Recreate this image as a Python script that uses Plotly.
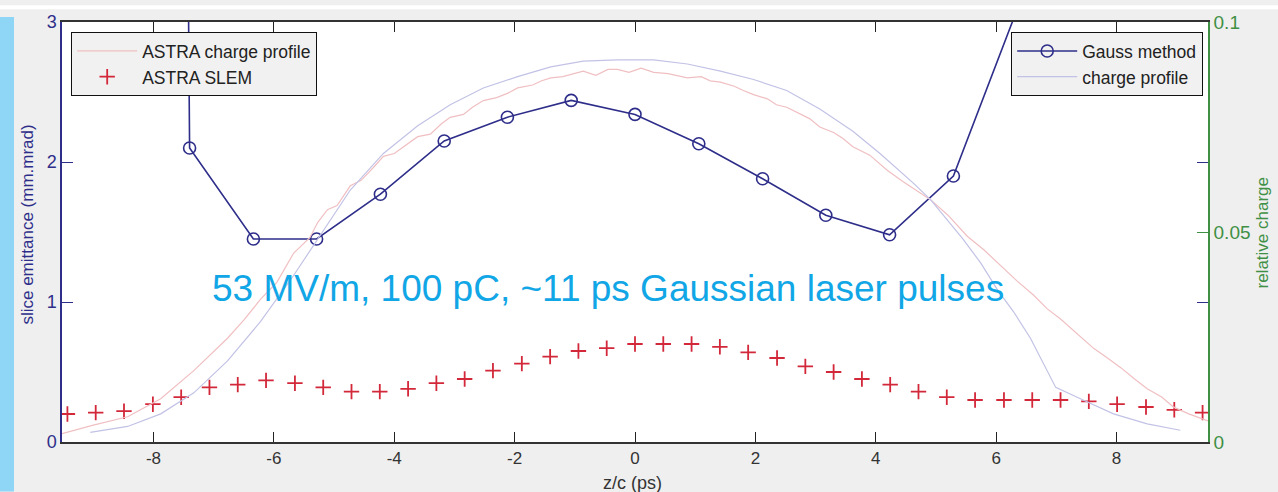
import plotly.graph_objects as go

# Gauss-method slice emittance (mm.mrad) vs z/c (ps)
gauss_z = [-8.46, -7.40, -6.34, -5.29, -4.23, -3.17, -2.12, -1.06, 0.0,
           1.06, 2.12, 3.17, 4.23, 5.29, 6.34, 7.40]
gauss_emit = [60.0, 2.10, 1.45, 1.45, 1.77, 2.15, 2.32, 2.44, 2.34,
              2.13, 1.88, 1.62, 1.48, 1.90, 3.08, 60.0]

# ASTRA slice emittance (SLEM), mm.mrad
slem_z = [-9.43, -8.96, -8.49, -8.01, -7.54, -7.07, -6.60, -6.13, -5.65, -5.18,
          -4.71, -4.24, -3.77, -3.30, -2.83, -2.36, -1.88, -1.41, -0.94, -0.47,
          0.0, 0.47, 0.94, 1.41, 1.88, 2.36, 2.83, 3.30, 3.77, 4.24,
          4.71, 5.18, 5.65, 6.13, 6.60, 7.07, 7.54, 8.01, 8.49, 8.96, 9.43]
slem_emit = [0.20, 0.21, 0.22, 0.27, 0.32, 0.39, 0.41, 0.44, 0.42, 0.39,
             0.36, 0.36, 0.38, 0.42, 0.45, 0.51, 0.56, 0.61, 0.65, 0.67,
             0.70, 0.70, 0.70, 0.68, 0.64, 0.60, 0.54, 0.50, 0.45, 0.41,
             0.36, 0.32, 0.30, 0.30, 0.30, 0.30, 0.29, 0.27, 0.25, 0.23, 0.21]

# Measured charge profile (relative charge)
prof_z = [-9.05, -8.43, -7.88, -7.33, -6.77, -6.22, -5.67, -5.27, -5.11, -4.73,
          -4.18, -3.61, -3.07, -2.52, -1.95, -1.40, -0.86, -0.29, 0.31, 0.87,
          1.42, 1.97, 2.52, 3.07, 3.62, 4.07, 4.62, 4.91, 5.45, 5.74,
          6.02, 6.29, 6.57, 6.79, 6.99, 7.40, 7.95, 8.51, 9.06]
prof_q = [0.0023, 0.0037, 0.0067, 0.0117, 0.0193, 0.0287, 0.0397, 0.0483, 0.0517, 0.0600,
          0.0687, 0.0753, 0.0803, 0.0843, 0.0870, 0.0893, 0.0907, 0.0910, 0.0910, 0.0900,
          0.0883, 0.0863, 0.0837, 0.0793, 0.0740, 0.0687, 0.0617, 0.0577, 0.0483, 0.0427,
          0.0363, 0.0310, 0.0247, 0.0187, 0.0130, 0.0103, 0.0067, 0.0043, 0.0028]

# ASTRA charge profile (relative charge)
astra_z = [-9.52, -9.00, -8.43, -7.88, -7.33, -6.77, -6.50, -6.22, -5.95, -5.67,
           -5.40, -5.27, -5.11, -4.95, -4.73, -4.55, -4.35, -4.18, -4.00, -3.80,
           -3.61, -3.40, -3.22, -3.07, -2.85, -2.70, -2.52, -2.30, -2.12, -1.95,
           -1.70, -1.55, -1.40, -1.20, -1.02, -0.86, -0.65, -0.45, -0.29, -0.10,
           0.10, 0.31, 0.55, 0.70, 0.87, 1.10, 1.25, 1.42, 1.65, 1.80,
           1.97, 2.20, 2.35, 2.52, 2.75, 2.90, 3.07, 3.30, 3.45, 3.62,
           3.90, 4.19, 4.45, 4.91, 5.20, 5.52, 5.80, 6.07, 6.35, 6.62,
           6.85, 7.07, 7.35, 7.62, 7.85, 8.07, 8.30, 8.51, 8.75, 8.95,
           9.20, 9.40, 9.52]
astra_q = [0.0020, 0.0040, 0.0060, 0.0103, 0.0170, 0.0247, 0.0290, 0.0340, 0.0380, 0.0450,
           0.0487, 0.0523, 0.0553, 0.0563, 0.0610, 0.0623, 0.0653, 0.0680, 0.0687, 0.0707,
           0.0727, 0.0733, 0.0757, 0.0773, 0.0780, 0.0797, 0.0813, 0.0820, 0.0830, 0.0843,
           0.0850, 0.0860, 0.0867, 0.0870, 0.0877, 0.0883, 0.0873, 0.0887, 0.0887, 0.0880,
           0.0890, 0.0880, 0.0877, 0.0873, 0.0867, 0.0870, 0.0860, 0.0857, 0.0847, 0.0837,
           0.0827, 0.0817, 0.0803, 0.0797, 0.0780, 0.0770, 0.0750, 0.0737, 0.0723, 0.0703,
           0.0683, 0.0647, 0.0620, 0.0577, 0.0540, 0.0490, 0.0457, 0.0420, 0.0383, 0.0350,
           0.0317, 0.0293, 0.0257, 0.0223, 0.0200, 0.0177, 0.0150, 0.0127, 0.0107, 0.0083,
           0.0067, 0.0057, 0.0050]

x_ticks = [-8, -6, -4, -2, 0, 2, 4, 6, 8]
x_tick_text = ["-8", "-6", "-4", "-2", "0", "2", "4", "6", "8"]
y_ticks = [0, 1, 2, 3]
y2_ticks = [0, 0.05, 0.1]
y2_tick_text = ["0", "0.05", "0.1"]

NAVY = "#2e2e8a"
GREEN = "#3f8f45"
FONT = "Liberation Sans, Arial, sans-serif"

fig = go.Figure()

fig.add_trace(go.Scatter(
    x=astra_z, y=astra_q, yaxis="y2", mode="lines", name="ASTRA charge profile",
    line=dict(color="#f0bfc2", width=1.2), legend="legend", legendrank=1))
fig.add_trace(go.Scatter(
    x=prof_z, y=prof_q, yaxis="y2", mode="lines", name="charge profile",
    line=dict(color="#c2c2e6", width=1.2), legend="legend2", legendrank=2))
fig.add_trace(go.Scatter(
    x=gauss_z, y=gauss_emit, mode="lines+markers", name="Gauss method",
    line=dict(color=NAVY, width=1.6),
    marker=dict(symbol="circle-open", size=12, color=NAVY, line=dict(width=1.6)),
    legend="legend2", legendrank=1))
fig.add_trace(go.Scatter(
    x=slem_z, y=slem_emit, mode="markers", name="ASTRA SLEM",
    marker=dict(symbol="cross-thin", size=11, line=dict(color="#d2283a", width=1.8)),
    legend="legend", legendrank=2))

legend_style = dict(bgcolor="#f1f1f1", bordercolor="#111111", borderwidth=1.2,
                    font=dict(size=17.5, color="#222222"), itemwidth=60,
                    traceorder="normal", tracegroupgap=0)

fig.update_layout(
    width=1278, height=492, autosize=False,
    margin=dict(l=62, r=70, t=17, b=50),
    paper_bgcolor="#efefef", plot_bgcolor="#ffffff",
    font=dict(family=FONT, size=15, color="#333333"),
    showlegend=True,
    xaxis=dict(range=[-9.52, 9.52], tickvals=x_ticks, ticktext=x_tick_text,
               ticks="inside", ticklen=10,
               tickcolor="#222222", linecolor="#333333", linewidth=1.5, mirror="ticks",
               showgrid=False, zeroline=False,
               tickfont=dict(size=17, color="#333333")),
    yaxis=dict(range=[0, 3], tickvals=y_ticks, ticks="inside", ticklen=11,
               tickcolor=NAVY, linecolor=NAVY, linewidth=1.5, mirror="ticks",
               showgrid=False, zeroline=False,
               tickfont=dict(size=18, color=NAVY)),
    yaxis2=dict(range=[0, 0.1], tickvals=y2_ticks, ticktext=y2_tick_text,
                overlaying="y", side="right", ticks="inside", ticklen=11,
                tickcolor=GREEN, linecolor=GREEN, linewidth=1.5, showline=True,
                showgrid=False, zeroline=False,
                tickfont=dict(size=19, color=GREEN)),
    legend=dict(x=(71 - 62) / 1146, y=(442 - 27) / 425, xanchor="left", yanchor="top",
                **legend_style),
    legend2=dict(x=(1203 - 62) / 1146, y=(442 - 27) / 425, xanchor="right", yanchor="top",
                 **legend_style),
)

# page decorations: light-blue strip on the left edge and thin white band on top
fig.add_shape(type="rect", xref="paper", yref="paper",
              x0=-62 / 1146, x1=(14 - 62) / 1146, y0=-50 / 425, y1=(442 - 12) / 425,
              fillcolor="#8fd6f6", line=dict(width=0), layer="below")
fig.add_shape(type="rect", xref="paper", yref="paper",
              x0=-62 / 1146, x1=1216 / 1146, y0=(442 - 4) / 425, y1=442 / 425,
              fillcolor="#ffffff", line=dict(width=0), layer="below")

# axis titles
fig.add_annotation(text="slice emittance (mm.mrad)", xref="paper", yref="paper",
                   x=(28 - 62) / 1146, y=(442 - 222) / 425, textangle=-90, showarrow=False,
                   font=dict(size=17, color=NAVY), xanchor="center", yanchor="middle")
fig.add_annotation(text="relative charge", xref="paper", yref="paper",
                   x=(1262 - 62) / 1146, y=(442 - 230) / 425, textangle=-90, showarrow=False,
                   font=dict(size=17, color=GREEN), xanchor="center", yanchor="middle")
fig.add_annotation(text="z/c (ps)", xref="paper", yref="paper",
                   x=(632 - 62) / 1146, y=(442 - 483) / 425, showarrow=False,
                   font=dict(size=18, color="#333333"), xanchor="center", yanchor="middle")

# run conditions
fig.add_annotation(text="53 MV/m, 100 pC, ~11 ps Gaussian laser pulses",
                   xref="paper", yref="paper",
                   x=(607.5 - 62) / 1146, y=(442 - 287) / 425, showarrow=False,
                   font=dict(size=37, color="#11a6e6"), xanchor="center", yanchor="middle")

fig.write_html("out.html")
